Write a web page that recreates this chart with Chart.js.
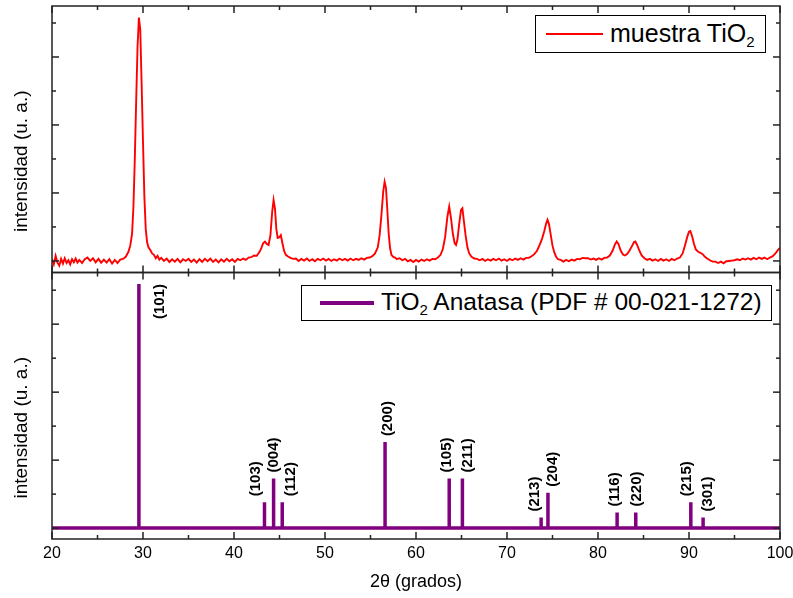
<!DOCTYPE html>
<html lang="es">
<head>
<meta charset="UTF-8">
<title>DRX muestra TiO2</title>
<script src="https://cdn.jsdelivr.net/npm/chart.js"></script>
<style>
  body { margin: 0; background: #fff; font-family: 'Liberation Sans', Arial, sans-serif; }
  #caja { position: relative; width: 793px; height: 598px; overflow: hidden; }
  .leyenda { position: absolute; box-sizing: border-box; border: 1px solid #000; background: #fff;
             font-size: 25px; color: #000; white-space: nowrap; }
  .leyenda .linea { position: absolute; }
  .leyenda .txt { position: absolute; top: 2px; line-height: 30px; }
  .leyenda sub { font-size: 15px; vertical-align: -5px; line-height: 0; }
</style>
</head>
<body>
<div id="caja">
  <canvas id="grafica" width="793" height="598"></canvas>
  <div class="leyenda" style="left:535px; top:15px; width:231px; height:38px;">
    <div class="linea" style="left:10px; top:17px; width:57px; height:2px; background:#ff0000;"></div>
    <div class="txt" style="left:74px;">muestra TiO<sub>2</sub></div>
  </div>
  <div class="leyenda" style="left:301px; top:285px; width:471px; height:36px; font-size:24.5px;">
    <div class="linea" style="left:18px; top:15px; width:54px; height:4px; background:#800080;"></div>
    <div class="txt" style="left:79px; top:1px;">TiO<sub>2</sub> Anatasa (PDF # 00-021-1272)</div>
  </div>
</div>

<script>
// difractograma medido (2θ, intensidad en u. a.)
const muestra = [
  [20.0,0.05],[20.2,-0.10],[20.4,0.15],[20.6,-0.05],[20.8,-0.14],[21.0,0.06],[21.2,-0.08],[21.4,0.08],
  [21.6,-0.06],[21.8,0.02],[22.0,-0.10],[22.2,0.05],[22.4,-0.04],[22.6,0.07],[22.8,-0.05],[23.0,0.03],
  [23.3,-0.06],[23.6,0.05],[23.9,0.10],[24.2,0.00],[24.5,0.08],[24.8,-0.04],[25.1,0.06],[25.4,-0.05],
  [25.7,0.04],[26.0,-0.05],[26.3,0.05],[26.6,-0.08],[26.9,0.03],[27.2,-0.06],[27.5,0.04],[27.8,0.06],
  [28.1,0.12],[28.4,0.27],[28.6,0.45],[28.8,0.80],[28.95,1.6],[29.1,3.0],[29.25,4.7],[29.4,6.3],
  [29.55,7.16],[29.7,6.8],[29.85,5.2],[30.0,3.5],[30.15,1.9],[30.3,0.95],[30.45,0.55],[30.6,0.40],
  [30.8,0.32],[31.0,0.22],[31.2,0.18],[31.4,0.08],[31.6,0.15],[31.8,0.04],[32.0,0.09],[32.3,0.00],
  [32.6,0.07],[32.9,-0.03],[33.2,0.05],[33.5,-0.02],[33.8,0.06],[34.1,-0.04],[34.4,0.05],[34.7,0.00],
  [35.0,0.06],[35.3,-0.03],[35.6,0.04],[35.9,-0.05],[36.2,0.05],[36.5,-0.03],[36.8,0.06],[37.1,-0.01],
  [37.4,0.07],[37.7,-0.03],[38.0,0.04],[38.3,-0.04],[38.6,0.05],[38.9,-0.02],[39.2,0.06],[39.5,-0.01],
  [39.8,0.05],[40.1,-0.03],[40.4,0.06],[40.7,0.02],[41.0,0.07],[41.3,0.03],[41.6,0.10],[41.9,0.11],
  [42.2,0.16],[42.5,0.15],[42.8,0.26],[43.0,0.38],[43.2,0.52],[43.4,0.57],[43.6,0.50],[43.8,0.47],
  [44.0,0.75],[44.2,1.45],[44.35,1.79],[44.5,1.55],[44.65,0.95],[44.8,0.68],[45.0,0.70],[45.15,0.76],
  [45.3,0.55],[45.5,0.30],[45.7,0.18],[45.9,0.14],[46.2,0.09],[46.5,0.06],[46.8,0.07],[47.1,0.00],
  [47.4,0.06],[47.7,0.01],[48.0,0.07],[48.3,0.00],[48.6,0.05],[48.9,-0.01],[49.2,0.06],[49.5,0.02],
  [49.8,0.07],[50.1,0.01],[50.4,0.06],[50.7,0.00],[51.0,0.05],[51.3,0.01],[51.6,0.07],[51.9,0.02],
  [52.2,0.06],[52.5,0.01],[52.8,0.07],[53.1,0.02],[53.4,0.06],[53.7,0.03],[54.0,0.08],[54.3,0.04],
  [54.6,0.09],[54.9,0.10],[55.2,0.14],[55.5,0.22],[55.8,0.40],[56.0,0.75],[56.2,1.35],[56.4,2.05],
  [56.55,2.33],[56.7,2.15],[56.85,1.50],[57.0,0.80],[57.15,0.38],[57.3,0.18],[57.5,0.12],[57.7,0.10],
  [57.9,0.05],[58.2,0.08],[58.5,0.02],[58.8,0.06],[59.1,-0.01],[59.4,0.03],[59.7,-0.03],[60.0,0.03],
  [60.3,-0.02],[60.6,0.04],[60.9,0.00],[61.2,0.05],[61.5,0.01],[61.8,0.06],[62.1,0.05],[62.4,0.10],
  [62.7,0.18],[62.95,0.35],[63.2,0.70],[63.45,1.30],[63.65,1.60],[63.85,1.25],[64.05,0.80],[64.25,0.52],
  [64.4,0.47],[64.55,0.62],[64.75,1.10],[64.95,1.50],[65.1,1.55],[65.25,1.20],[65.45,0.75],[65.65,0.40],
  [65.85,0.22],[66.1,0.12],[66.4,0.07],[66.7,0.06],[67.0,0.02],[67.3,0.06],[67.6,0.00],[67.9,0.05],
  [68.2,0.01],[68.5,0.06],[68.8,0.02],[69.1,0.07],[69.4,0.01],[69.7,0.05],[70.0,0.00],[70.3,0.06],
  [70.6,0.02],[70.9,0.07],[71.2,0.03],[71.5,0.08],[71.8,0.04],[72.1,0.09],[72.4,0.09],[72.7,0.14],
  [73.0,0.20],[73.3,0.30],[73.6,0.48],[73.85,0.65],[74.1,0.88],[74.3,1.10],[74.45,1.21],[74.6,1.10],
  [74.8,0.78],[75.0,0.45],[75.2,0.25],[75.4,0.12],[75.6,0.05],[75.9,0.03],[76.2,-0.02],[76.5,0.03],
  [76.8,-0.01],[77.1,0.04],[77.4,0.01],[77.7,0.06],[78.0,0.05],[78.3,0.09],[78.6,0.08],[78.9,0.08],
  [79.2,0.04],[79.5,0.07],[79.8,0.03],[80.1,0.08],[80.4,0.04],[80.7,0.09],[81.0,0.10],[81.3,0.16],
  [81.6,0.30],[81.85,0.48],[82.05,0.57],[82.25,0.50],[82.5,0.30],[82.75,0.19],[82.95,0.16],[83.2,0.20],
  [83.45,0.30],[83.7,0.42],[83.95,0.55],[84.1,0.57],[84.3,0.47],[84.55,0.30],[84.8,0.16],[85.1,0.08],
  [85.4,0.03],[85.7,0.06],[86.0,0.01],[86.3,0.05],[86.6,0.00],[86.9,0.06],[87.2,0.01],[87.5,0.05],
  [87.8,0.00],[88.1,0.06],[88.4,0.02],[88.7,0.07],[89.0,0.10],[89.3,0.22],[89.55,0.45],[89.8,0.70],
  [90.0,0.86],[90.15,0.88],[90.35,0.72],[90.55,0.50],[90.75,0.34],[91.0,0.27],[91.25,0.24],[91.5,0.20],
  [91.75,0.12],[92.0,0.07],[92.3,0.02],[92.6,-0.02],[92.9,-0.02],[93.2,-0.06],[93.5,-0.02],[93.8,-0.07],
  [94.1,-0.01],[94.4,0.00],[94.7,0.01],[95.0,0.02],[95.3,0.05],[95.6,0.02],[95.9,0.07],[96.2,0.04],
  [96.5,0.08],[96.8,0.04],[97.1,0.09],[97.4,0.05],[97.7,0.10],[98.0,0.06],[98.3,0.10],[98.6,0.05],
  [98.9,0.10],[99.2,0.14],[99.5,0.22],[99.8,0.33],[100.0,0.38]
];

// patrón de referencia anatasa
const anatasaPos = [29.55, 43.35, 44.35, 45.3, 56.6, 63.65, 65.1, 73.75, 74.5, 82.1, 84.15, 90.2, 91.55];
const anatasaInt = [7.18, 0.76, 1.46, 0.76, 2.53, 1.46, 1.46, 0.31, 1.04, 0.46, 0.46, 0.76, 0.31];
const hkl = ['(101)','(103)','(004)','(112)','(200)','(105)','(211)','(213)','(204)','(116)','(220)','(215)','(301)'];

const xTicks = [20, 30, 40, 50, 60, 70, 80, 90, 100];

// desplazamiento horizontal de cada etiqueta (px), solo estilo
const hklDx = [21, -9, 0, 9, 3, -2, 5, -6, 5, -2, 1, -4, 5];

// barras: subir y bajar en cada pico
const barras = [{x: 20, y: 0}];
anatasaPos.forEach((p, i) => {
  barras.push({x: p, y: 0}, {x: p, y: anatasaInt[i]}, {x: p, y: 0});
});
barras.push({x: 100, y: 0});

const fuente = "'Liberation Sans', Arial, sans-serif";

const marco = {
  id: 'marco',
  afterDatasetsDraw(chart) {
    const ctx = chart.ctx, x = chart.scales.x, area = chart.chartArea;
    ctx.save();
    ctx.strokeStyle = '#222';
    ctx.lineWidth = 1.5;
    const seg = (a, b, c, d) => { ctx.beginPath(); ctx.moveTo(a, b); ctx.lineTo(c, d); ctx.stroke(); };
    ['yTop', 'yBot'].forEach(id => {
      const y = chart.scales[id];
      ctx.strokeRect(area.left, y.top, area.right - area.left, y.bottom - y.top);
      for (let v = 20; v <= 100; v += 5) {
        const px = x.getPixelForValue(v);
        const len = v % 10 === 0 ? 7 : 4;
        seg(px, y.bottom, px, y.bottom - len);
        seg(px, y.top, px, y.top + len);
      }
      for (let v = 0; v <= 7; v++) {
        const py = y.getPixelForValue(v);
        const len = v % 2 === 0 ? 7 : 4;
        seg(area.left, py, area.left + len, py);
        seg(area.right, py, area.right - len, py);
      }
      // título del eje y
      ctx.save();
      ctx.fillStyle = '#000';
      ctx.font = '19px ' + fuente;
      ctx.textAlign = 'center';
      ctx.textBaseline = 'middle';
      ctx.translate(22, (y.top + y.bottom) / 2 + 22);
      ctx.rotate(-Math.PI / 2);
      ctx.fillText('intensidad (u. a.)', 0, 0);
      ctx.restore();
    });

    // etiquetas hkl
    const yb = chart.scales.yBot;
    ctx.fillStyle = '#000';
    ctx.font = 'bold 15px ' + fuente;
    ctx.textBaseline = 'middle';
    anatasaPos.forEach((p, i) => {
      const px = x.getPixelForValue(p) + hklDx[i];
      const py = yb.getPixelForValue(anatasaInt[i]);
      ctx.save();
      if (i === 0) {
        ctx.translate(px, py);
        ctx.rotate(-Math.PI / 2);
        ctx.textAlign = 'right';
      } else {
        ctx.translate(px, py - 6);
        ctx.rotate(-Math.PI / 2);
        ctx.textAlign = 'left';
      }
      ctx.fillText(hkl[i], 0, 0);
      ctx.restore();
    });
    ctx.restore();
  }
};

new Chart(document.getElementById('grafica'), {
  type: 'line',
  data: {
    datasets: [
      {
        label: 'muestra TiO2',
        data: muestra.map(d => ({x: d[0], y: d[1]})),
        yAxisID: 'yTop',
        borderColor: '#ff0000',
        borderWidth: 1.9,
        pointRadius: 0,
        tension: 0
      },
      {
        label: 'TiO2 Anatasa (PDF # 00-021-1272)',
        data: barras,
        yAxisID: 'yBot',
        borderColor: '#800080',
        borderWidth: 3.5,
        pointRadius: 0,
        tension: 0
      }
    ]
  },
  options: {
    responsive: false,
    animation: false,
    layout: { padding: { left: 52, right: 0, top: 6, bottom: 0 } },
    plugins: { legend: { display: false }, tooltip: { enabled: false } },
    scales: {
      x: {
        type: 'linear',
        min: 20, max: 100,
        afterBuildTicks: s => { s.ticks = xTicks.map(v => ({value: v})); },
        afterFit: s => { s.height = 59; s.paddingRight = 13; s.paddingLeft = 0; },
        grid: { display: false, drawTicks: false },
        border: { display: false },
        ticks: { color: '#000', font: { family: fuente, size: 16 }, padding: 5 },
        title: { display: true, text: '2θ (grados)', color: '#000',
                 font: { family: fuente, size: 18 }, padding: { top: 0, bottom: 5 } }
      },
      yTop: {
        type: 'linear', position: 'left', stack: 'panel', stackWeight: 1, weight: 1,
        min: -0.34, max: 7.5,
        grid: { display: false, drawTicks: false },
        border: { display: false },
        ticks: { display: false }
      },
      yBot: {
        type: 'linear', position: 'left', stack: 'panel', stackWeight: 1, weight: 0,
        min: -0.32, max: 7.52,
        grid: { display: false, drawTicks: false },
        border: { display: false },
        ticks: { display: false }
      }
    }
  },
  plugins: [marco]
});
</script>
</body>
</html>
